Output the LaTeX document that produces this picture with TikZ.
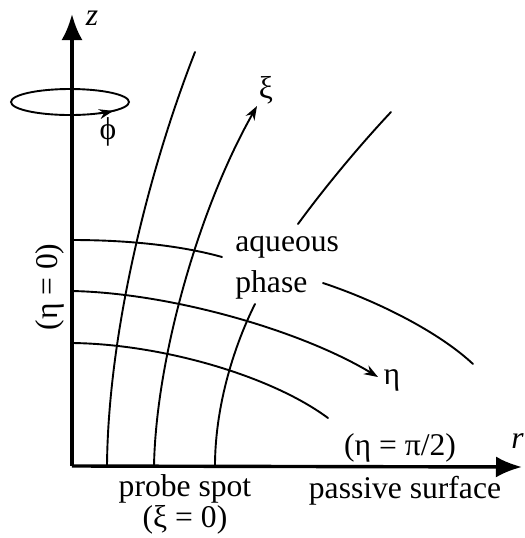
\documentclass[tikz,border=0pt]{standalone}
\usepackage{fontspec}
\setmainfont{Liberation Serif}
\usetikzlibrary{arrows.meta}
\begin{document}
\begin{tikzpicture}[x=0.5pt,y=-0.5pt,
  curve/.style={line width=0.95pt, line cap=round},
  axis/.style={line width=1.7pt, -{Latex[length=13pt,width=10.5pt]}},
  tip/.style={-{Stealth[length=7pt,width=5pt]}},
  lbl/.style={inner sep=0pt, font=\fontsize{15.8}{19}\selectfont}]
\useasboundingbox (0,0) rectangle (525,538);
% axes
\coordinate (O) at (72,466);
\coordinate (Ztop) at (72,14);
\coordinate (Rend) at (522,467);
\draw[axis] (O) -- (Ztop);
\draw[axis] (O) -- (Rend);
\node[lbl, font=\fontsize{15.8}{19}\selectfont\itshape] (zlab) at (92,18) {z};
\node[lbl, font=\fontsize{15.8}{19}\selectfont\itshape, anchor=east] (rlab) at (524,441) {r};
% rotation ellipse
\draw[curve] (70,102) ellipse[x radius=29.5pt, y radius=6.5pt];
\draw[curve, tip] (99.5,113.3) arc[start angle=300, end angle=317, x radius=29.5pt, y radius=6.5pt];
\node[lbl] (phi) at (108,132) {ϕ};
% xi lines
\coordinate (a1) at (107,466); \coordinate (a2) at (195,52);
\coordinate (b1) at (154,466); \coordinate (b2) at (257,106);
\coordinate (c1) at (215,466); \coordinate (c2) at (255,304);
\coordinate (c3) at (298,224); \coordinate (c4) at (391,112);
\draw[curve] (a1) .. controls (108,340) and (145,180) .. (a2);
\draw[curve, tip] (b1) .. controls (156,360) and (198,210) .. (b2);
\draw[curve] (c1) .. controls (215,410) and (232,350) .. (c2);
\draw[curve] (c3) .. controls (325,187) and (360,145) .. (c4);
\node[lbl] (xi) at (266,90) {ξ};
% eta lines
\coordinate (d1) at (72,240); \coordinate (d2) at (222,257);
\coordinate (d3) at (323,283); \coordinate (d4) at (473,364);
\coordinate (e1) at (72,291); \coordinate (e2) at (378,377);
\coordinate (f1) at (72,343); \coordinate (f2) at (328,418);
\draw[curve] (d1) .. controls (140,240) and (190,248) .. (d2);
\draw[curve] (d3) .. controls (380,302) and (440,333) .. (d4);
\draw[curve, tip] (e1) .. controls (170,293) and (300,330) .. (e2);
\draw[curve] (f1) .. controls (160,344) and (270,375) .. (f2);
\node[lbl] (eta) at (392,380) {η};
% labels
\node[lbl, anchor=west] (aq) at (235,247) {aqueous};
\node[lbl, anchor=west] (ph) at (235,285) {phase};
\node[lbl, rotate=90] (eta0) at (50,287) {(η = 0)};
\node[lbl] (etapi) at (400,448) {(η = π/2)};
\node[lbl] (pass) at (405,491) {passive surface};
\node[lbl] (probe) at (185,489) {probe spot};
\node[lbl] (xi0) at (185,520) {(ξ = 0)};
\end{tikzpicture}
\end{document}
